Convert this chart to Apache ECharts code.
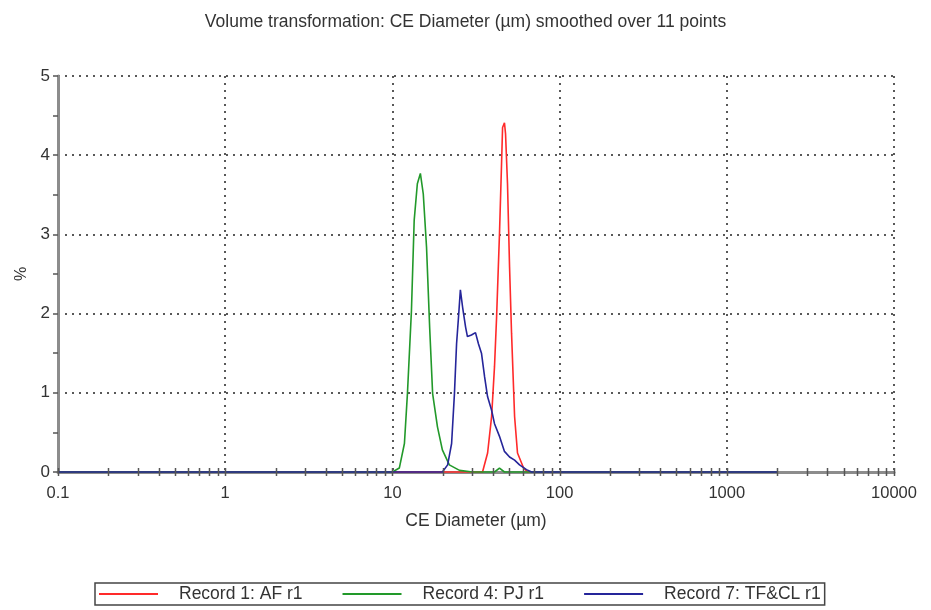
<!DOCTYPE html>
<html>
<head>
<meta charset="utf-8">
<script src="https://cdn.jsdelivr.net/npm/echarts@6/dist/echarts.min.js"></script>
<style>html,body{margin:0;padding:0;background:#fff;}#c{width:931px;height:610px;}</style>
</head>
<body>
<div id="c"></div>
<script>
// Record 1: AF r1 (red)
const afX = [0.1, 34.6, 37.1, 39.2, 40.8, 42.0, 43.7, 44.9, 45.6, 46.8, 47.5, 48.8, 50.2, 51.6, 53.8, 56.0, 60.9, 64.3, 2000];
const afY = [0, 0, 0.24, 0.70, 1.33, 1.96, 3.01, 3.85, 4.35, 4.41, 4.27, 3.64, 2.59, 1.75, 0.70, 0.24, 0.05, 0, 0];
// Record 4: PJ r1 (green)
const pjX = [0.1, 10.0, 11.0, 11.8, 12.3, 13.0, 13.5, 14.1, 14.7, 15.3, 16.0, 16.7, 17.4, 18.6, 19.9, 21.9, 25.2, 30.1, 40.8, 43.7, 46.8, 2000];
const pjY = [0, 0, 0.05, 0.36, 0.99, 2.04, 3.18, 3.64, 3.77, 3.51, 2.84, 1.83, 0.99, 0.57, 0.28, 0.09, 0.02, 0, 0, 0.05, 0, 0];
// Record 7: TF&CL r1 (blue)
const tfX = [0.1, 19.9, 21.4, 22.6, 23.5, 24.2, 24.9, 25.5, 26.3, 27.4, 28.1, 29.7, 31.4, 32.7, 34.1, 35.6, 37.1, 39.2, 40.8, 43.7, 46.8, 50.2, 53.8, 57.6, 63.4, 68.0, 2000];
const tfY = [0, 0, 0.09, 0.36, 0.99, 1.62, 1.98, 2.30, 2.08, 1.83, 1.71, 1.73, 1.76, 1.62, 1.50, 1.20, 0.95, 0.78, 0.61, 0.45, 0.26, 0.19, 0.15, 0.09, 0.03, 0, 0];

const seriesNames = ['Record 1: AF r1', 'Record 4: PJ r1', 'Record 7: TF&CL r1'];
const seriesColors = ['#ff2a2a', '#22992a', '#25259a'];
const xTicks = [0.1, 1, 10, 100, 1000, 10000];
const xMinorSteps = [2, 3, 4, 5, 6, 7, 8, 9];
const yTicks = [0, 1, 2, 3, 4, 5];

const FONT = '"Liberation Sans", Arial, sans-serif';
const TXT = '#333';
function pairs(xs, ys) { return xs.map((x, i) => [x, ys[i]]); }
const dataSets = [pairs(afX, afY), pairs(pjX, pjY), pairs(tfX, tfY)];

const chart = echarts.init(document.getElementById('c'), null, {renderer: 'canvas'});
chart.setOption({
  backgroundColor: '#fff',
  animation: false,
  title: {
    text: 'Volume transformation: CE Diameter (µm) smoothed over 11 points',
    left: 'center', top: 8,
    textStyle: {fontFamily: FONT, fontSize: 17.5, fontWeight: 'normal', color: TXT}
  },
  grid: {left: 58, right: 37, top: 76, bottom: 138, containLabel: false},
  xAxis: {
    type: 'log', logBase: 10, min: xTicks[0], max: xTicks[xTicks.length - 1],
    name: 'CE Diameter (µm)', nameLocation: 'middle', nameGap: 40,
    nameTextStyle: {fontFamily: FONT, fontSize: 17.5, color: TXT},
    axisLine: {show: true, lineStyle: {color: '#8c8c8c', width: 3}},
    axisTick: {show: false},
    minorTick: {show: false},
    axisLabel: {margin: 13, fontFamily: FONT, fontSize: 16.5, color: TXT,
      formatter: v => String(+(+v).toPrecision(6))},
    splitLine: {show: true, lineStyle: {type: [2, 5], color: '#222', width: 1.5}},
    minorSplitLine: {show: false}
  },
  yAxis: {
    type: 'value', min: yTicks[0], max: yTicks[yTicks.length - 1], interval: 1,
    name: '%', nameLocation: 'middle', nameGap: 26, nameRotate: 90,
    nameTextStyle: {fontFamily: FONT, fontSize: 16, color: TXT},
    axisLine: {show: true, lineStyle: {color: '#8c8c8c', width: 3}},
    axisTick: {show: true, length: 5, lineStyle: {color: '#555', width: 1.5}},
    minorTick: {show: true, splitNumber: 2, length: 5, lineStyle: {color: '#555', width: 1.5}},
    axisLabel: {margin: 8, fontFamily: FONT, fontSize: 17, color: TXT},
    splitLine: {show: true, lineStyle: {type: [2, 5], color: '#222', width: 1.5}}
  },
  legend: {
    data: seriesNames,
    left: 95, top: 583,
    orient: 'horizontal',
    icon: 'rect',
    padding: [2, 4, 2, 4],
    itemGap: 40, itemWidth: 59, itemHeight: 2,
    borderColor: '#444', borderWidth: 1.5, borderRadius: 0,
    textStyle: {fontFamily: FONT, fontSize: 17.5, color: TXT, padding: [0, 0, 0, 16]}
  },
  series: dataSets.map((d, i) => ({
    name: seriesNames[i],
    type: 'line',
    data: d,
    symbol: 'none',
    smooth: false,
    clip: false,
    color: seriesColors[i],
    lineStyle: {color: seriesColors[i], width: 1.6},
    z: 3 + i
  }))
});

// x-axis major + minor tick marks (log decades) crossing the axis line
function drawXTicks() {
  const els = [];
  const y0 = chart.convertToPixel({yAxisIndex: 0}, 0);
  xTicks.forEach((t, k) => {
    const vals = [t];
    if (k < xTicks.length - 1) xMinorSteps.forEach(m => vals.push(t * m));
    vals.forEach(v => {
      const px = Math.round(chart.convertToPixel({xAxisIndex: 0}, v)) + 0.5;
      els.push({type: 'line', z: 10, silent: true,
        shape: {x1: px, y1: y0 - 4, x2: px, y2: y0 + 4},
        style: {stroke: '#555', lineWidth: 1.5}});
    });
  });
  chart.setOption({graphic: els});
}
drawXTicks();
</script>
</body>
</html>
